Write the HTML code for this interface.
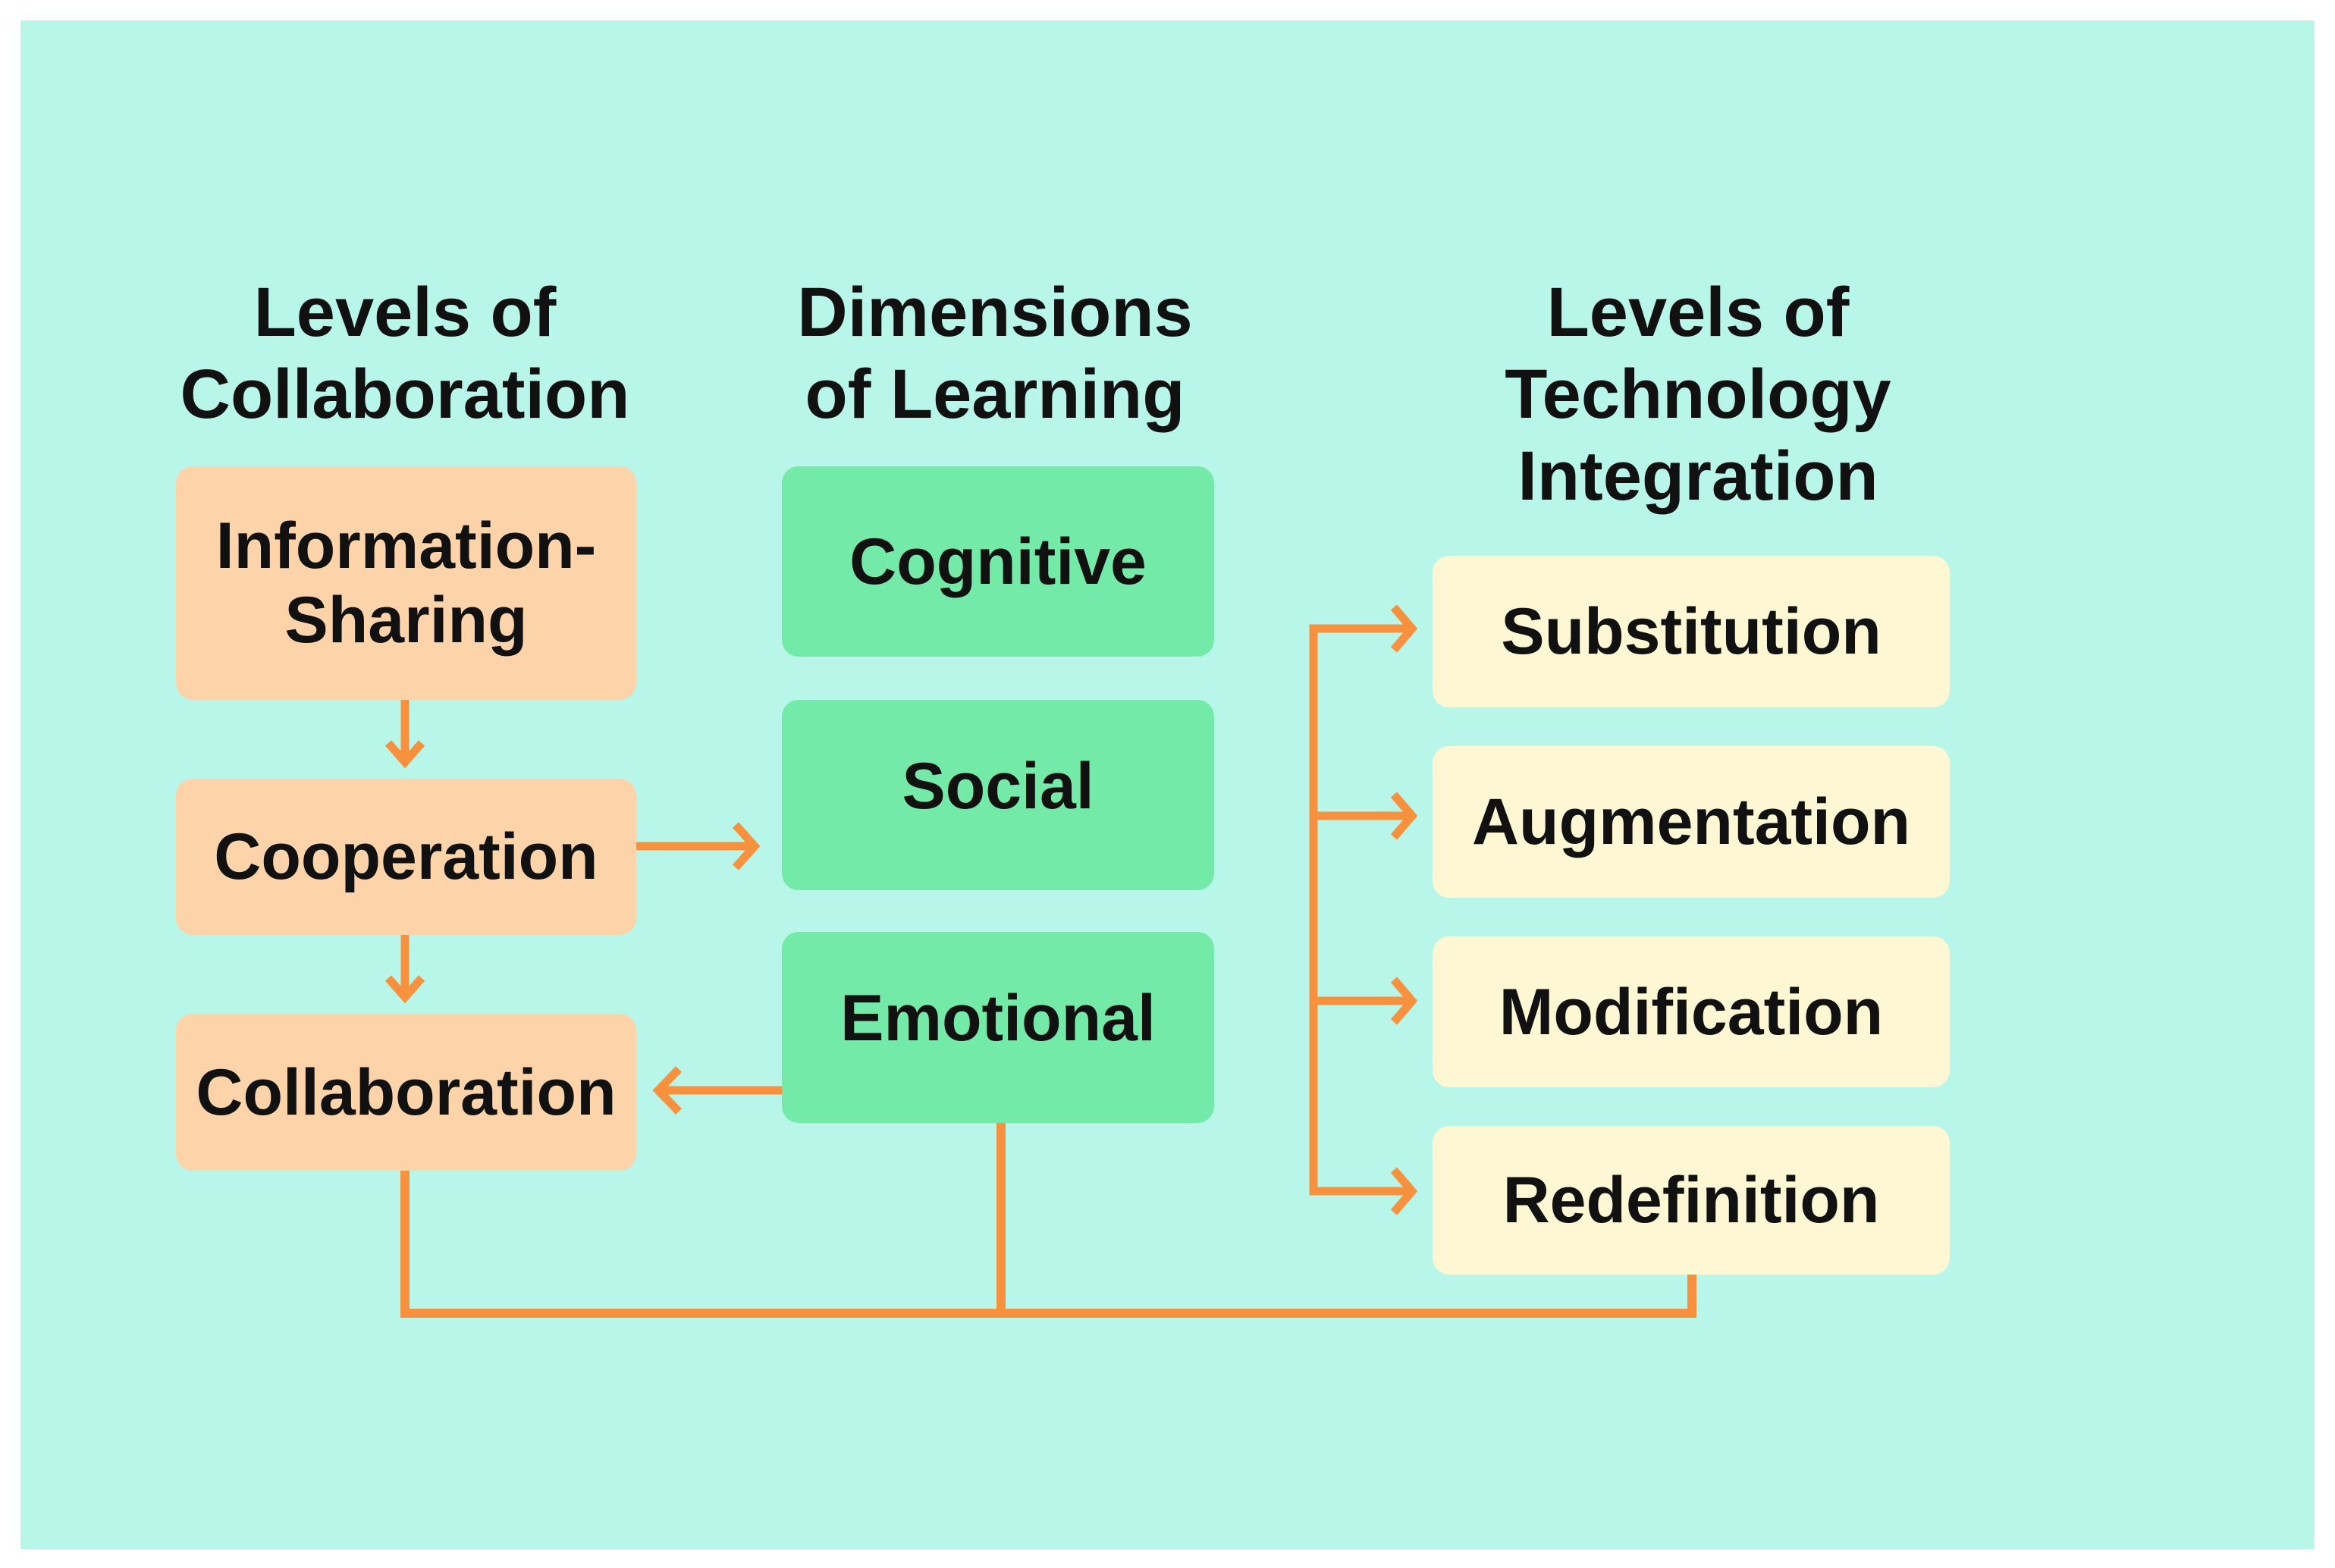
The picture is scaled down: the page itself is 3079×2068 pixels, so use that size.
<!DOCTYPE html>
<html><head><meta charset="utf-8"><style>
html,body{margin:0;padding:0;background:#fff;}
body{width:3079px;height:2068px;position:relative;overflow:hidden;font-family:"Liberation Sans",sans-serif;}
.bg{position:absolute;left:27px;top:27px;width:3025px;height:2016px;background:#b9f6ea;}
.box{position:absolute;border-radius:22px;display:flex;align-items:center;justify-content:center;text-align:center;font-weight:bold;font-size:86px;line-height:98px;color:#111;}
.o{background:#fdd4aa;left:232px;width:607px;}
.g{background:#74eaa8;left:1031px;width:570px;}
.y{background:#fdf8d3;left:1889px;width:682px;}
.h{position:absolute;font-weight:bold;font-size:92px;line-height:108px;text-align:center;color:#111;}
</style></head><body>
<div class="bg"></div>
<div class="h" style="left:134px;width:800px;top:358px;">Levels of<br>Collaboration</div>
<div class="h" style="left:912px;width:800px;top:358px;">Dimensions<br>of Learning</div>
<div class="h" style="left:1839px;width:800px;top:358px;">Levels of<br>Technology<br>Integration</div>

<div class="box o" style="top:615px;height:308px;">Information-<br>Sharing</div>
<div class="box o" style="top:1027px;height:206px;">Cooperation</div>
<div class="box o" style="top:1337px;height:207px;">Collaboration</div>

<div class="box g" style="top:615px;height:251px;">Cognitive</div>
<div class="box g" style="top:923px;height:251px;padding-bottom:24px;box-sizing:border-box;">Social</div>
<div class="box g" style="top:1229px;height:252px;padding-bottom:24px;box-sizing:border-box;">Emotional</div>

<div class="box y" style="top:733px;height:200px;">Substitution</div>
<div class="box y" style="top:984px;height:200px;">Augmentation</div>
<div class="box y" style="top:1235px;height:199px;">Modification</div>
<div class="box y" style="top:1485px;height:196px;">Redefinition</div>

<svg width="3079" height="2068" style="position:absolute;left:0;top:0" fill="none" stroke="#f7913d" stroke-width="11" stroke-linecap="butt">
<path d="M534 923V1005M512 980L534 1005L556 980"/>
<path d="M534 1233V1315M512 1290L534 1315L556 1290"/>
<path d="M839 1116H995M970 1088L995 1116L970 1144"/>
<path d="M1031 1438H868M895 1410L868 1438L895 1466"/>
<path d="M534 1544V1732H2231V1681M1320 1481V1732" stroke-width="12"/>
<path d="M1862 829H1732V1571H1862M1732 1076H1862M1732 1320H1862"/>
<path d="M1838 801L1862 829L1838 857M1838 1048L1862 1076L1838 1104M1838 1292L1862 1320L1838 1348M1838 1543L1862 1571L1838 1599"/>
</svg>
</body></html>
